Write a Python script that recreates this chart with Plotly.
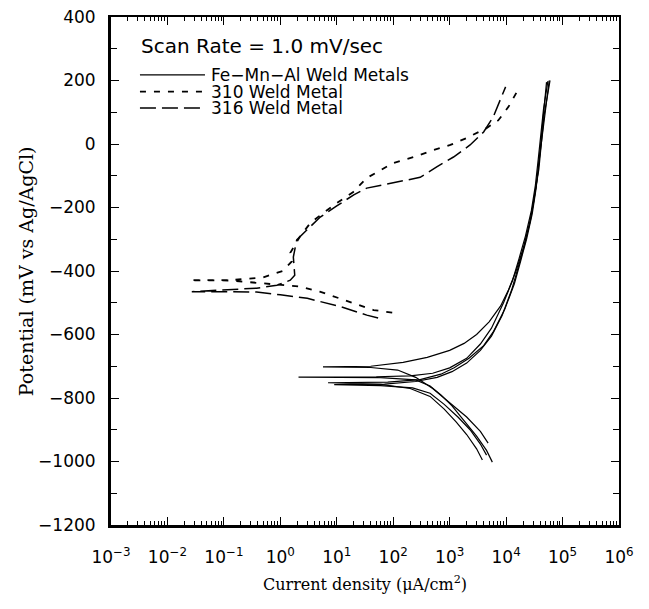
import plotly.graph_objects as go

# ---------------- data ----------------
# Fe-Mn-Al weld metals (4 specimens): cathodic branch (bottom -> Ecorr) then anodic branch
femnal_a_i = [4800, 3500, 2000, 1000, 500, 250, 120, 40, 5.7,
              40, 150, 400, 1000, 1800, 3000, 5000, 8000, 11000, 15000, 20000, 26000, 31000, 36000, 40000, 44000, 48000, 52000]
femnal_a_e = [-942, -905, -860, -815, -770, -735, -712, -704, -702,
              -700, -688, -672, -650, -628, -600, -560, -510, -460, -400, -330, -250, -180, -100, -20, 60, 130, 195]

femnal_b_i = [5700, 4500, 3000, 1800, 1100, 700, 450, 250, 60, 2.1,
              50, 200, 500, 1000, 2000, 3500, 5500, 9000, 13000, 17000, 22000, 28000, 33000, 37000, 41000, 46000, 55000]
femnal_b_e = [-1002, -965, -920, -870, -825, -790, -762, -743, -736, -734,
              -733, -730, -722, -705, -675, -630, -580, -500, -430, -360, -290, -210, -130, -50, 30, 110, 198]

femnal_c_i = [3800, 3000, 2000, 1300, 800, 450, 200, 60, 7,
              80, 300, 700, 1200, 2200, 4000, 6000, 9500, 14000, 18000, 23000, 29000, 34000, 38000, 43000, 49000, 58000]
femnal_c_e = [-995, -960, -915, -875, -835, -795, -770, -757, -752,
              -750, -742, -725, -705, -675, -635, -590, -520, -440, -370, -300, -220, -140, -60, 20, 110, 200]

femnal_d_i = [4500, 3500, 2300, 1400, 800, 450, 220, 60, 9,
              70, 250, 600, 1100, 2000, 3500, 5500, 8500, 12500, 16000, 21000, 27000, 32000, 38000, 42000, 47000, 55000, 60000]
femnal_d_e = [-980, -945, -900, -860, -820, -785, -768, -761, -758,
              -756, -748, -735, -717, -690, -650, -605, -540, -460, -395, -320, -240, -160, -80, 0, 90, 160, 200]

# 310 weld metal (cathodic -> Ecorr -> anodic)
w310_i = [96, 45, 19.5, 5, 2.2, 0.5, 0.13, 0.025,
          0.13, 0.5, 1.1, 1.6, 1.5, 2.2, 3.4, 5.8, 10, 19.6, 34, 100, 230, 520, 1030, 2000, 4500, 7300, 11000, 15500]
w310_e = [-531, -523, -501, -465, -449, -438, -430, -429,
          -429, -420, -400, -370, -343, -293, -249, -217, -186, -151, -107, -60, -41, -19, -3, 19, 50, 75, 117, 164]

# 316 weld metal (cathodic -> Ecorr -> anodic)
w316_i = [54, 34, 11.5, 3, 1.0, 0.38, 0.027,
          0.38, 0.87, 1.5, 1.8, 1.7, 1.95, 3, 5.1, 10, 20, 34, 100, 300, 590, 1170, 2300, 4000, 5900, 7900, 9800]
w316_e = [-548, -539, -512, -486, -475, -466, -465,
          -454, -445, -429, -413, -356, -302, -271, -230, -195, -160, -139, -123, -105, -72, -41, -3, 38, 85, 139, 180]

x_tickvals = [1e-3, 1e-2, 1e-1, 1e0, 1e1, 1e2, 1e3, 1e4, 1e5, 1e6]
x_ticktext = ["10<sup>−3</sup>", "10<sup>−2</sup>", "10<sup>−1</sup>", "10<sup>0</sup>", "10<sup>1</sup>",
              "10<sup>2</sup>", "10<sup>3</sup>", "10<sup>4</sup>", "10<sup>5</sup>", "10<sup>6</sup>"]

legend_names = ["Fe−Mn−Al Weld Metals", "310 Weld Metal", "316 Weld Metal"]
note_text = "Scan Rate = 1.0 mV/sec"
x_title = "Current density (μA/cm<sup>2</sup>)"
y_title = "Potential (mV vs Ag/AgCl)"

# ---------------- styles ----------------
style_fe = dict(color="black", width=1.2)
style_310 = dict(color="black", width=1.8, dash="6px,8px")
style_316 = dict(color="black", width=1.5, dash="16px,6px")

# ---------------- figure ----------------
fig = go.Figure()
femnal = [(femnal_a_i, femnal_a_e), (femnal_b_i, femnal_b_e), (femnal_c_i, femnal_c_e), (femnal_d_i, femnal_d_e)]
for xi, ye in femnal:
    fig.add_trace(go.Scatter(x=xi, y=ye, mode="lines", name=legend_names[0], line=style_fe))
fig.add_trace(go.Scatter(x=w310_i, y=w310_e, mode="lines", name=legend_names[1], line=style_310))
fig.add_trace(go.Scatter(x=w316_i, y=w316_e, mode="lines", name=legend_names[2], line=style_316))
# helper trace to show mirrored axes
fig.add_trace(go.Scatter(x=[], y=[], xaxis="x2", yaxis="y2"))

# manual legend (keys in paper coordinates)
leg_x0, leg_x1, leg_tx = 0.057, 0.185, 0.193
leg_rows = [0.886, 0.853, 0.821]
leg_styles = [style_fe, style_310, style_316]
shapes = []
annotations = [dict(text=note_text, xref="paper", yref="paper", x=0.056, y=0.943, xanchor="left",
                    yanchor="middle", showarrow=False,
                    font=dict(family="DejaVu Sans", size=20, color="black")),
               dict(text=y_title, xref="paper", yref="paper", x=-0.167, y=0.5, xanchor="center",
                    yanchor="middle", textangle=-90, showarrow=False,
                    font=dict(family="DejaVu Serif", size=19, color="black"))]
for name, yy, st in zip(legend_names, leg_rows, leg_styles):
    shapes.append(dict(type="line", xref="paper", yref="paper", x0=leg_x0, x1=leg_x1, y0=yy, y1=yy, line=st))
    annotations.append(dict(text=name, xref="paper", yref="paper", x=leg_tx, y=yy, xanchor="left",
                            yanchor="middle", showarrow=False,
                            font=dict(family="DejaVu Sans", size=17, color="black")))

tickfont = dict(family="DejaVu Sans", size=17, color="black")
fig.update_layout(
    width=649, height=609,
    margin=dict(l=111, r=30, t=17, b=84, autoexpand=False),
    paper_bgcolor="white", plot_bgcolor="white",
    showlegend=False,
    shapes=shapes, annotations=annotations,
    xaxis=dict(type="log", range=[-3, 6], tickmode="array", tickvals=x_tickvals, ticktext=x_ticktext,
               ticks="inside", ticklen=8, tickwidth=1.2, tickcolor="black", automargin=False,
               minor=dict(dtick="D1", ticks="inside", ticklen=4, tickwidth=1, tickcolor="black", showgrid=False),
               showline=True, linewidth=3, linecolor="black", showgrid=False, zeroline=False,
               tickfont=tickfont, ticklabelstandoff=15,
               title=dict(text=x_title,
                          font=dict(family="DejaVu Serif", size=16, color="black"), standoff=13)),
    yaxis=dict(range=[-1200, 400], dtick=200, ticks="inside", ticklen=8, tickwidth=1.2, tickcolor="black",
               automargin=False,
               minor=dict(dtick=100, ticks="inside", ticklen=6, tickwidth=1, tickcolor="black", showgrid=False),
               showline=True, linewidth=3, linecolor="black", showgrid=False, zeroline=False,
               tickfont=tickfont, ticklabelstandoff=9),
    xaxis2=dict(type="log", range=[-3, 6], overlaying="x", side="top", tickmode="array", tickvals=x_tickvals,
                ticks="inside", ticklen=8, tickwidth=1.2, tickcolor="black", showticklabels=False, automargin=False,
                minor=dict(dtick="D1", ticks="inside", ticklen=4, tickwidth=1, tickcolor="black", showgrid=False),
                showline=True, linewidth=1.5, linecolor="black", showgrid=False, zeroline=False),
    yaxis2=dict(range=[-1200, 400], overlaying="y", side="right", dtick=200, automargin=False,
                ticks="inside", ticklen=8, tickwidth=1.2, tickcolor="black", showticklabels=False,
                minor=dict(dtick=100, ticks="inside", ticklen=6, tickwidth=1, tickcolor="black", showgrid=False),
                showline=True, linewidth=1.5, linecolor="black", showgrid=False, zeroline=False),
)

fig.write_html("out.html")
